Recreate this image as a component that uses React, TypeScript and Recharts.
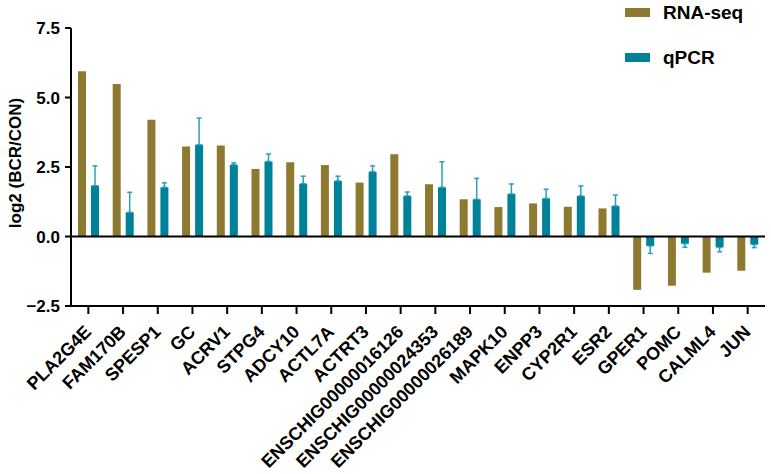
import React from "react";
import {
  Bar,
  BarChart,
  ErrorBar,
  Legend,
  ReferenceLine,
  XAxis,
  YAxis,
} from "recharts";

const genes = [
  "PLA2G4E",
  "FAM170B",
  "SPESP1",
  "GC",
  "ACRV1",
  "STPG4",
  "ADCY10",
  "ACTL7A",
  "ACTRT3",
  "ENSCHIG00000016126",
  "ENSCHIG00000024353",
  "ENSCHIG00000026189",
  "MAPK10",
  "ENPP3",
  "CYP2R1",
  "ESR2",
  "GPER1",
  "POMC",
  "CALML4",
  "JUN",
];

const rnaSeq = [
  5.94, 5.49, 4.2, 3.24, 3.27, 2.43, 2.67, 2.57, 1.94, 2.96, 1.88, 1.34, 1.06,
  1.19, 1.07, 1.01, -1.92, -1.77, -1.3, -1.23,
];

const qpcr = [
  1.83, 0.87, 1.77, 3.3, 2.58, 2.7, 1.9, 2.0, 2.33, 1.46, 1.77, 1.34, 1.53,
  1.37, 1.46, 1.1, -0.34, -0.26, -0.39, -0.29,
];

const qpcrErr = [
  0.71, 0.72, 0.16, 0.96, 0.07, 0.27, 0.27, 0.17, 0.21, 0.14, 0.92, 0.75,
  0.36, 0.33, 0.36, 0.39, 0.27, 0.13, 0.16, 0.11,
];

const yTicks = [-2.5, 0, 2.5, 5, 7.5];

// one-sided error bars: up for positive values, down for negative
const data = genes.map((gene, i) => ({
  gene,
  rna: rnaSeq[i],
  qpcr: qpcr[i],
  err: qpcr[i] >= 0 ? [0, qpcrErr[i]] : [qpcrErr[i], 0],
}));

const FONT = "'Liberation Sans', Arial, sans-serif";
const OLIVE = "#8d7a30";
const TEAL = "#00819a";
const ERR = "#2a9fba";

const GeneTick = (props: any) => {
  const { x, y, payload } = props;
  return (
    <text
      x={x + 4}
      y={y + 17}
      transform={`rotate(-45, ${x + 4}, ${y + 17})`}
      textAnchor="end"
      fontFamily={FONT}
      fontWeight="bold"
      fontSize={18}
      fill="#000"
    >
      {payload.value}
    </text>
  );
};

const LegendBox = (props: any) => {
  const { payload } = props;
  return (
    <div style={{ fontFamily: FONT, fontWeight: "bold", fontSize: 19 }}>
      {(payload || []).map((p: any) => (
        <div
          key={p.value}
          style={{ display: "flex", alignItems: "center", height: 45 }}
        >
          <span
            style={{
              display: "inline-block",
              width: 25,
              height: 9,
              background: p.color,
              marginRight: 13,
            }}
          />
          <span>{p.value}</span>
        </div>
      ))}
    </div>
  );
};

export default function App() {
  return (
    <div style={{ position: "absolute", left: 0, top: 0 }}>
      <BarChart
        width={771}
        height={474}
        data={data}
        margin={{ top: 28, right: 6, left: 0, bottom: 0 }}
        barGap={5}
        barSize={8}
      >
        <XAxis
          dataKey="gene"
          height={168}
          interval={0}
          tick={<GeneTick />}
          tickSize={8}
          axisLine={{ stroke: "#000", strokeWidth: 2 }}
          tickLine={{ stroke: "#000", strokeWidth: 2 }}
        />
        <YAxis
          width={71}
          domain={[-2.5, 7.5]}
          ticks={yTicks}
          interval={0}
          tickFormatter={(v: number) => v.toFixed(1).replace("-", "\u2212")}
          tickSize={6}
          tickMargin={5}
          tick={{ fill: "#000", fontFamily: FONT, fontWeight: "bold", fontSize: 17 }}
          axisLine={{ stroke: "#000", strokeWidth: 2 }}
          tickLine={{ stroke: "#000", strokeWidth: 2 }}
          label={{
            value: "log2 (BCR/CON)",
            angle: -90,
            position: "center",
            dx: -21,
            dy: -4,
            style: {
              fontFamily: FONT,
              fontWeight: "bold",
              fontSize: 17,
              fill: "#000",
            },
          }}
        />
        <ReferenceLine y={0} stroke="#000" strokeWidth={2} />
        <Legend
          layout="vertical"
          align="center"
          verticalAlign="middle"
          content={<LegendBox />}
          wrapperStyle={{ left: 625, top: -10, width: 140 }}
        />
        <Bar dataKey="rna" name="RNA-seq" fill={OLIVE} isAnimationActive={false} />
        <Bar dataKey="qpcr" name="qPCR" fill={TEAL} isAnimationActive={false}>
          <ErrorBar
            dataKey="err"
            width={2.5}
            stroke={ERR}
            strokeWidth={1.5}
            direction="y"
          />
        </Bar>
      </BarChart>
    </div>
  );
}
